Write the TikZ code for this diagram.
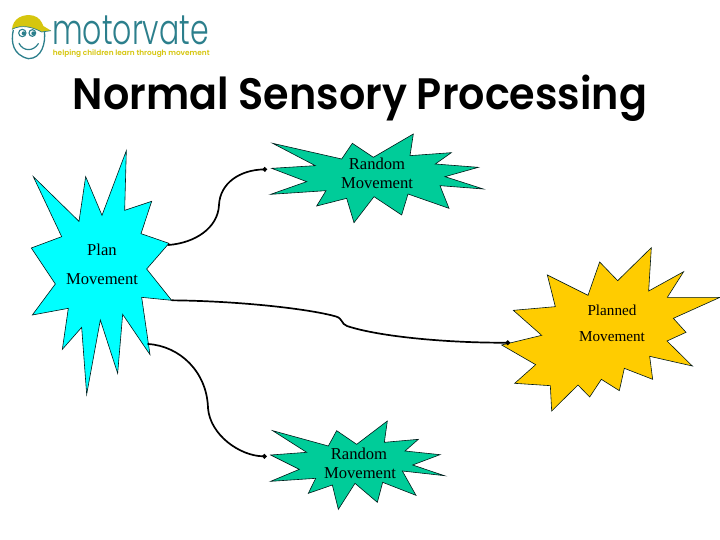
\documentclass[tikz,border=0pt]{standalone}
\usepackage{fontspec}
\usepackage{graphicx}
\setmainfont{Liberation Serif}
\newfontfamily\titlefont{Poppins}[UprightFont=* SemiBold]
\newfontfamily\logofont{Poppins}[UprightFont=* Light]
\newfontfamily\tagfont{Poppins}[UprightFont=* SemiBold]
\usetikzlibrary{arrows.meta}
\definecolor{starcyan}{HTML}{00FFFF}
\definecolor{stargreen}{HTML}{00CC99}
\definecolor{staryellow}{HTML}{FFCC00}
\definecolor{logoteal}{HTML}{2C7F8C}
\definecolor{logoyellow}{HTML}{D6C60E}
\tikzset{
  burst/.style={draw=black!80!teal,line width=0.6pt,line join=miter},
  label/.style={anchor=base,inner sep=0pt,font=\fontsize{16.6}{16.6}\selectfont},
  link/.style={draw=black,line width=1.7pt,line cap=round},
  linkdot/.style={-{Circle[length=4.5pt,width=4.5pt]}},
  zoomed/.style={x=0.33333pt,y=-0.33333pt}
}
\begin{document}
\begin{tikzpicture}[x=1pt,y=-1pt]
\useasboundingbox (0,0) rectangle (720,540);
\fill[white] (0,0) rectangle (720,540);
% logo
\begin{scope}[zoomed]
  \draw[logoteal,line width=1.3pt,fill=white] (40,90) .. controls (32,125) and (38,165) .. (85,176) .. controls (125,176) and (138,130) .. (133,92);
  \fill[logoyellow] (36,88) .. controls (38,55) and (70,40) .. (100,47) .. controls (118,52) and (125,65) .. (130,78) -- (153,92) -- (125,96) .. controls (100,82) and (65,72) .. (36,88) -- cycle;
  \draw[logoteal,line width=0.7pt] (36,88) .. controls (65,72) and (100,82) .. (125,96) -- (153,92);
  \draw[logoteal,line width=1.1pt] (67,99) circle (11) (97,99) circle (10);
  \fill[logoteal] (71,100) circle (6) (100,100) circle (6);
  \draw[logoteal,line width=1.2pt,line cap=round] (57,130) .. controls (70,155) and (100,155) .. (115,131);
  \node[anchor=base west,inner sep=0pt,logoteal] (logoname) at (156,133) {\logofont\fontsize{42}{42}\selectfont\scalebox{0.714}[1]{motorvate}};
  \node[anchor=base west,inner sep=0pt,logoyellow] (logotag) at (158,166) {\tagfont\fontsize{7.35}{8}\selectfont helping children learn through movement};
\end{scope}
% title
\node[anchor=base,inner sep=0pt] (title) at (360,110) {\titlefont\fontsize{44}{44}\selectfont\scalebox{0.938}[1]{Normal Sensory Processing}};
% plan burst
\begin{scope}[shift={(0,130)},zoomed]
  \draw[burst,fill=starcyan] (379,62)--(374,241)--(455,214)--(423,311)--(507,340)--(440,417)--(515,511)--(425,502)--(450,674)--(368,553)--(353,730)--(301,570)--(260,793)--(245,592)--(187,658)--(205,535)--(97,555)--(166,462)--(94,354)--(185,320)--(100,140)--(237,274)--(257,140)--(306,256)--cycle;
  \coordinate (planA) at (505,345);
  \coordinate (planB) at (516,511);
  \coordinate (planC) at (444,642);
\end{scope}
% upper random burst
\begin{scope}[shift={(210,125)},zoomed]
  \draw[burst,fill=stargreen] (395,102)--(188,55)--(316,122)--(185,130)--(290,170)--(182,208)--(348,197)--(320,243)--(410,220)--(432,293)--(492,215)--(575,270)--(594,207)--(717,250)--(690,182)--(820,192)--(705,155)--(805,127)--(676,117)--(724,83)--(600,92)--(610,27)--(490,97)--(427,55)--cycle;
  \coordinate (randA) at (171,133);
\end{scope}
% planned burst
\begin{scope}[shift={(480,240)},zoomed]
  \draw[burst,fill=staryellow] (65,315)--(185,286)--(100,211)--(226,200)--(202,105)--(324,166)--(359,66)--(413,122)--(514,23)--(506,153)--(611,95)--(562,172)--(720,172)--(580,235)--(618,277)--(561,303)--(637,378)--(509,349)--(518,418)--(433,385)--(418,452)--(364,418)--(329,471)--(294,435)--(215,513)--(211,437)--(104,430)--(167,374)--cycle;
  \coordinate (planned) at (90,308);
\end{scope}
% lower random burst
\begin{scope}[shift={(200,410)},zoomed]
  \draw[burst,fill=stargreen] (385,108)--(218,62)--(320,127)--(212,135)--(298,178)--(212,214)--(347,205)--(325,250)--(397,225)--(415,298)--(465,220)--(532,277)--(548,217)--(648,256)--(607,183)--(733,197)--(638,165)--(720,134)--(615,123)--(655,88)--(553,97)--(562,33)--(470,103)--(410,62)--cycle;
  \coordinate (randB) at (200,139);
\end{scope}
% labels
\node[label] (plan1) at (102,255) {Plan};
\node[label] (plan2) at (102,284) {Movement};
\node[label] (ra1) at (377,170) {Random};
\node[label] (ra2) at (377,189) {Movement};
\node[label,font=\fontsize{15.2}{15.2}\selectfont] (pm1) at (612,315) {Planned};
\node[label,font=\fontsize{15.2}{15.2}\selectfont] (pm2) at (612,341) {Movement};
\node[label] (rb1) at (359,459) {Random};
\node[label] (rb2) at (360,478) {Movement};
% connectors
\draw[link,linkdot] (planA) .. controls (195,243) and (218,228) .. (219,205) .. controls (220,183) and (240,170) .. (randA);
\draw[link,linkdot] (planB) .. controls (240,301) and (310,309) .. (336,316.5) .. controls (343,318.5) and (341,324) .. (347,326) .. controls (380,337) and (450,343) .. (planned);
\draw[link,linkdot] (planC) .. controls (180,346) and (207,372) .. (208,408) .. controls (210,435) and (240,456) .. (randB);
\end{tikzpicture}
\end{document}
